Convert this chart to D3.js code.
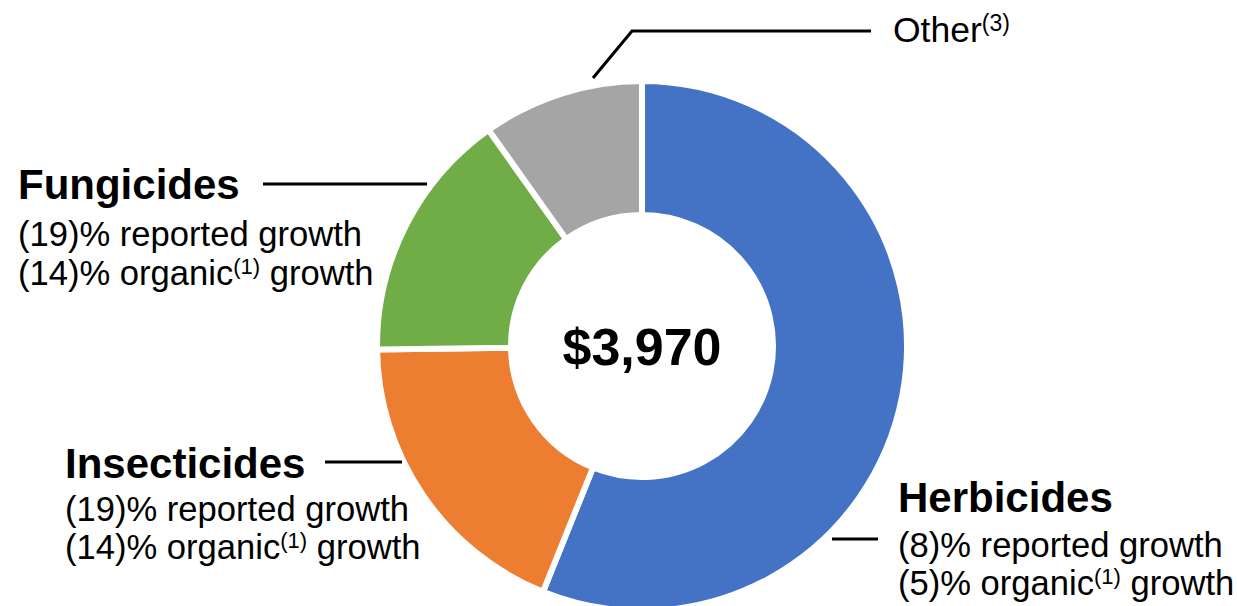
<!DOCTYPE html>
<html>
<head>
<meta charset="utf-8">
<script src="https://cdn.jsdelivr.net/npm/d3@7"></script>
<style>
  html, body { margin: 0; padding: 0; background: #fff; }
  svg { display: block; font-family: "Liberation Sans", Arial, sans-serif; }
</style>
</head>
<body>
<svg id="chart" width="1237" height="606"></svg>
<script>
const categories = ["Herbicides", "Insecticides", "Fungicides", "Other"];
const values = [2227, 742, 611, 390];
const reportedGrowth = ["(8)%", "(19)%", "(19)%", null];
const organicGrowth = ["(5)%", "(14)%", "(14)%", null];
const totalLabel = "$3,970";
const colors = ["#4472C4", "#ED7D31", "#70AD47", "#A5A5A5"];

const svg = d3.select("#chart");
const cx = 642, cy = 346;

const pie = d3.pie().sort(null).value(d => d.value).startAngle(0).endAngle(2 * Math.PI);
const data = categories.map((c, i) => ({ name: c, value: values[i], color: colors[i] }));
const arcs = pie(data);
const arc = d3.arc().innerRadius(131).outerRadius(265);

const g = svg.append("g").attr("transform", `translate(${cx},${cy})`);
g.selectAll("path").data(arcs).join("path")
  .attr("d", arc)
  .attr("fill", d => d.data.color)
  .attr("stroke", "#fff")
  .attr("stroke-width", 6)
  .attr("stroke-linejoin", "miter");

g.append("text")
  .attr("x", 0).attr("y", 19)
  .attr("text-anchor", "middle")
  .attr("font-size", 52).attr("font-weight", "bold")
  .attr("fill", "#000")
  .text(totalLabel);

// Leader lines
const lines = [
  [[593, 78], [632, 31], [871, 31]],
  [[263, 184], [427, 184]],
  [[325, 462], [402, 462]],
  [[832, 539], [878, 539]]
];
svg.selectAll("path.leader").data(lines).join("path")
  .attr("class", "leader")
  .attr("d", d3.line())
  .attr("fill", "none")
  .attr("stroke", "#000")
  .attr("stroke-width", 3);

// Labels
const labelPos = [
  { x: 898, y: 512, d1: 45, d2: 83 },
  { x: 65, y: 478, d1: 43, d2: 81 },
  { x: 18, y: 199, d1: 47, d2: 86 },
];
const subFont = 34.6;
function addLabel(i) {
  const p = labelPos[i];
  svg.append("text").attr("x", p.x).attr("y", p.y)
    .attr("font-size", 42).attr("font-weight", "bold").attr("fill", "#000")
    .text(categories[i]);
  svg.append("text").attr("x", p.x).attr("y", p.y + p.d1)
    .attr("font-size", subFont).attr("fill", "#000")
    .text(reportedGrowth[i] + " reported growth");
  const t2 = svg.append("text").attr("x", p.x).attr("y", p.y + p.d2)
    .attr("font-size", subFont).attr("fill", "#000");
  t2.append("tspan").text(organicGrowth[i] + " organic");
  t2.append("tspan").attr("dy", -11).attr("font-size", 22).text("(1)");
  t2.append("tspan").attr("dy", 11).text(" growth");
}
[0, 1, 2].forEach(addLabel);

const other = svg.append("text").attr("x", 893).attr("y", 42)
  .attr("font-size", 35.5).attr("fill", "#000");
other.append("tspan").text(categories[3]);
other.append("tspan").attr("dy", -11).attr("font-size", 23).text("(3)");
</script>
</body>
</html>
